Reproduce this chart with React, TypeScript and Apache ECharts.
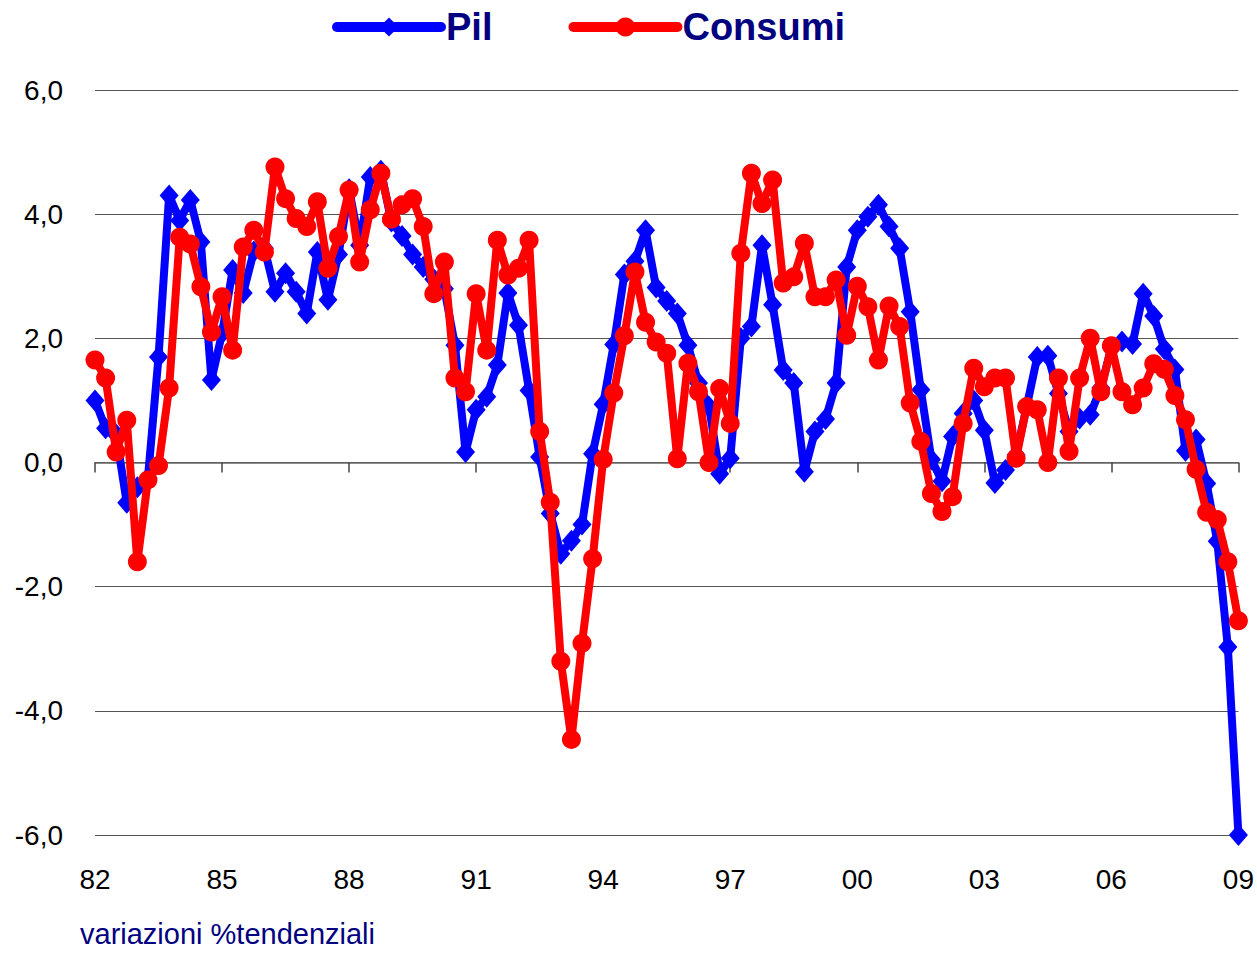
import React, { useEffect, useRef } from "react";
import * as echarts from "echarts";

// Quarterly categories 1982 Q1 .. 2009 Q1
const startYear = 1982;
const endYear = 2009;
const quarters: string[] = [];
for (let y = startYear; y <= endYear; y++) {
  for (let q = 1; q <= 4; q++) {
    if (y === endYear && q > 1) break;
    quarters.push(String(y) + "T" + q);
  }
}

const yTicks = [-6, -4, -2, 0, 2, 4, 6];

const pil = [
  1.0, 0.55, 0.45, -0.65, -0.4, -0.25, 1.7, 4.3,
  3.9, 4.23, 3.55, 1.33, 2.08, 3.1, 2.73, 3.4,
  3.45, 2.75, 3.05, 2.75, 2.4, 3.39, 2.62, 3.35,
  4.4, 3.5, 4.6, 4.7, 3.88, 3.65, 3.35, 3.15,
  2.95, 2.8, 1.89, 0.17, 0.85, 1.06, 1.57, 2.73,
  2.21, 1.16, 0.09, -0.82, -1.47, -1.26, -1.0, 0.14,
  0.94, 1.9, 3.03, 3.24, 3.74, 2.82, 2.6, 2.4,
  1.89, 1.28, 0.9, -0.18, 0.07, 2.0, 2.19, 3.5,
  2.54, 1.49, 1.28, -0.15, 0.5, 0.7, 1.28, 3.15,
  3.74, 3.96, 4.15, 3.8, 3.45, 2.43, 1.17, 0.05,
  -0.3, 0.42, 0.79, 1.0, 0.52, -0.33, -0.12, 0.12,
  0.9, 1.7, 1.72, 1.11, 0.5, 0.71, 0.77, 1.2,
  1.85, 1.95, 1.91, 2.72, 2.36, 1.83, 1.5, 0.19,
  0.37, -0.34, -1.27, -2.97, -6.0,
];

const consumi = [
  1.65, 1.36, 0.17, 0.68, -1.6, -0.28, -0.05, 1.2,
  3.63, 3.52, 2.83, 2.1, 2.67, 1.81, 3.47, 3.74,
  3.39, 4.76, 4.25, 3.93, 3.8, 4.2, 3.13, 3.64,
  4.39, 3.23, 4.07, 4.66, 3.92, 4.15, 4.25, 3.8,
  2.72, 3.23, 1.36, 1.14, 2.72, 1.81, 3.58, 3.02,
  3.13, 3.58, 0.5, -0.64, -3.2, -4.46, -2.91, -1.55,
  0.05, 1.12, 2.04, 3.07, 2.26, 1.94, 1.76, 0.06,
  1.6, 1.14, 0.0, 1.19, 0.63, 3.37, 4.66, 4.17,
  4.55, 2.89, 2.99, 3.53, 2.67, 2.67, 2.94, 2.05,
  2.84, 2.51, 1.65, 2.52, 2.19, 0.96, 0.34, -0.5,
  -0.79, -0.55, 0.63, 1.52, 1.22, 1.36, 1.36, 0.07,
  0.9, 0.85, 0.0, 1.36, 0.18, 1.36, 2.0, 1.14,
  1.88, 1.14, 0.93, 1.2, 1.59, 1.5, 1.08, 0.69,
  -0.11, -0.8, -0.92, -1.6, -2.55,
];

const seriesNames = ["Pil", "Consumi"];
const footnote = "variazioni %tendenziali";

const FONT = "'Liberation Sans', Arial, Helvetica, sans-serif";

export default function App() {
  const ref = useRef<HTMLDivElement>(null);
  useEffect(() => {
    if (!ref.current) return;
    const chart = echarts.init(ref.current, undefined, { renderer: "svg" });
    chart.setOption({
      animation: false,
      backgroundColor: "#ffffff",
      textStyle: { fontFamily: FONT },
      legend: {
        data: seriesNames,
        left: 327,
        top: 3,
        itemWidth: 104,
        itemHeight: 24,
        itemGap: 76,
        lineStyle: { width: 10, cap: "round" },
        textStyle: {
          fontSize: 38,
          fontWeight: "bold",
          color: "#000080",
          fontFamily: FONT,
        },
      },
      grid: { left: 95, right: 17, top: 90, bottom: 118, containLabel: false },
      xAxis: [
        {
          type: "category",
          data: quarters,
          boundaryGap: false,
          position: "bottom",
          axisLine: { show: false, onZero: false },
          axisTick: { show: false },
          splitLine: { show: false },
          axisLabel: {
            interval: 11,
            margin: 30,
            fontSize: 28,
            color: "#000000",
            fontFamily: FONT,
            formatter: (v: string) => v.slice(2, 4),
          },
        },
        {
          type: "category",
          data: quarters,
          boundaryGap: false,
          position: "bottom",
          axisLine: { show: true, onZero: true, lineStyle: { color: "#666666", width: 1.5 } },
          axisTick: { show: true, interval: 11, length: 10, inside: false, lineStyle: { color: "#444444", width: 1.5 } },
          axisLabel: { show: false },
          splitLine: { show: false },
        },
      ],
      yAxis: {
        type: "value",
        min: yTicks[0],
        max: yTicks[yTicks.length - 1],
        interval: 2,
        axisLine: { show: false },
        axisTick: { show: false },
        axisLabel: {
          margin: 32,
          fontSize: 28,
          color: "#000000",
          fontFamily: FONT,
          formatter: (v: number) => v.toFixed(1).replace(".", ","),
        },
        splitLine: { show: true, lineStyle: { color: "#555555", width: 1.2 } },
      },
      series: [
        {
          name: seriesNames[0],
          type: "line",
          data: pil,
          xAxisIndex: 0,
          symbol: "diamond",
          symbolSize: [19, 22],
          showAllSymbol: true,
          itemStyle: { color: "#0000FF" },
          lineStyle: { color: "#0000FF", width: 8 },
          z: 2,
        },
        {
          name: seriesNames[1],
          type: "line",
          data: consumi,
          xAxisIndex: 0,
          symbol: "circle",
          symbolSize: 19,
          showAllSymbol: true,
          itemStyle: { color: "#FF0000" },
          lineStyle: { color: "#FF0000", width: 8 },
          z: 3,
        },
      ],
      graphic: [
        {
          type: "text",
          left: 80,
          top: 919,
          style: {
            text: footnote,
            fontSize: 29,
            fill: "#000080",
            fontFamily: FONT,
          },
        },
      ],
    });
    return () => chart.dispose();
  }, []);
  return (
    <div
      ref={ref}
      style={{ position: "absolute", left: 0, top: 0, width: 1257, height: 953 }}
    />
  );
}
